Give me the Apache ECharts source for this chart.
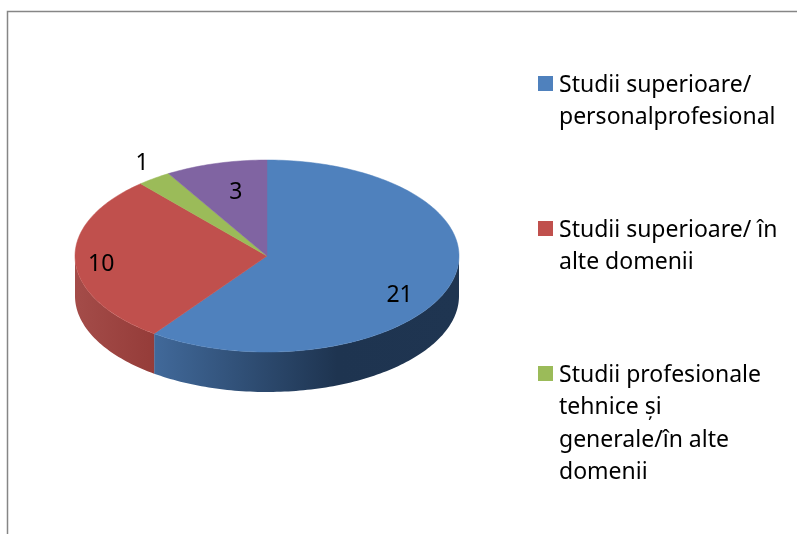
<!DOCTYPE html>
<html>
<head>
<meta charset="utf-8">
<style>
  html, body { margin: 0; padding: 0; background: #fff; }
  #main { width: 797px; height: 534px; }
</style>
<script src="https://cdn.jsdelivr.net/npm/echarts@6/dist/echarts.min.js"></script>
</head>
<body>
<div id="main"></div>
<script>
const categories = [
  "Studii superioare/\npersonalprofesional",
  "Studii superioare/ în\nalte domenii",
  "Studii profesionale\ntehnice și\ngenerale/în alte\ndomenii",
  "Altele"
];
const values = [21, 10, 1, 3];

// stilul feliilor
const topColors = ["#4f81bd", "#c0504d", "#9bbb59", "#8064a2"];
const sideColors = [
  [[0, "#41699a"], [0.6, "#1e3450"], [1, "#1f3551"]],
  [[0, "#a44c49"], [1, "#953c39"]],
  [[0, "#7f9647"], [1, "#7f9647"]],
  [[0, "#66508a"], [1, "#66508a"]]
];
const labelOffsets = [[-50, 10], [26, 4], [-12, -15], [20, 29]];

const cx = 267, cy = 256, rx = 192, ry = 96, depth = 40;
const legendTops = [76, 221, 366];
const fontName = "'Noto Sans', sans-serif";
const total = values.reduce((a, b) => a + b, 0);

// unghi masurat din varf, in sensul acelor de ceas
const rim = (ang, dy = 0) => [cx + rx * Math.sin(ang), cy - ry * Math.cos(ang) + dy];

function arcPoints(a0, a1, dy) {
  const n = Math.max(2, Math.ceil((a1 - a0) / 0.02));
  const pts = [];
  for (let i = 0; i <= n; i++) pts.push(rim(a0 + (a1 - a0) * i / n, dy));
  return pts;
}

function renderSlice(params, api) {
  const i = params.dataIndex;
  const before = values.slice(0, i).reduce((a, b) => a + b, 0);
  const a0 = before / total * Math.PI * 2;
  const a1 = (before + api.value(1)) / total * Math.PI * 2;
  const children = [];

  // partea laterala, doar pe jumatatea din fata
  const s0 = Math.max(a0, Math.PI / 2), s1 = Math.min(a1, Math.PI * 1.5);
  if (s1 > s0) {
    const upper = arcPoints(s0, s1, 0);
    const lower = arcPoints(s0, s1, depth).reverse();
    children.push({
      type: "polygon",
      z2: 1,
      shape: { points: upper.concat(lower) },
      style: {
        fill: new echarts.graphic.LinearGradient(
          0, 0, 1, 0,
          sideColors[i].map(c => ({ offset: c[0], color: c[1] }))
        )
      }
    });
  }

  // fata de sus
  children.push({
    type: "polygon",
    z2: 2,
    shape: { points: [[cx, cy]].concat(arcPoints(a0, a1, 0)) },
    style: { fill: topColors[i], stroke: topColors[i], lineWidth: 0.5 }
  });

  const mid = rim((a0 + a1) / 2);
  children.push({
    type: "text",
    z2: 3,
    style: {
      x: mid[0] + labelOffsets[i][0],
      y: mid[1] + labelOffsets[i][1],
      text: String(api.value(1)),
      fill: "#000",
      font: "23px " + fontName,
      align: "center",
      verticalAlign: "middle"
    }
  });
  return { type: "group", children };
}

const legendGraphics = [];
legendTops.forEach((top, i) => {
  legendGraphics.push({
    type: "rect",
    shape: { x: 538, y: top, width: 15, height: 15 },
    style: { fill: topColors[i] }
  });
  legendGraphics.push({
    type: "text",
    style: {
      x: 559,
      y: top - 7,
      text: categories[i],
      fill: "#000",
      font: "23px " + fontName,
      lineHeight: 32.5
    }
  });
});

const chart = echarts.init(document.getElementById("main"), null, { renderer: "canvas" });
chart.setOption({
  animation: false,
  backgroundColor: "#fff",
  graphic: [
    {
      type: "polyline",
      shape: { points: [[7.5, 534], [7.5, 11.5], [797, 11.5]] },
      style: { stroke: "#868686", lineWidth: 1.5, fill: null }
    }
  ].concat(legendGraphics),
  series: [
    {
      type: "custom",
      coordinateSystem: "none",
      renderItem: renderSlice,
      data: values.map((v, i) => [i, v])
    }
  ]
});
</script>
</body>
</html>
